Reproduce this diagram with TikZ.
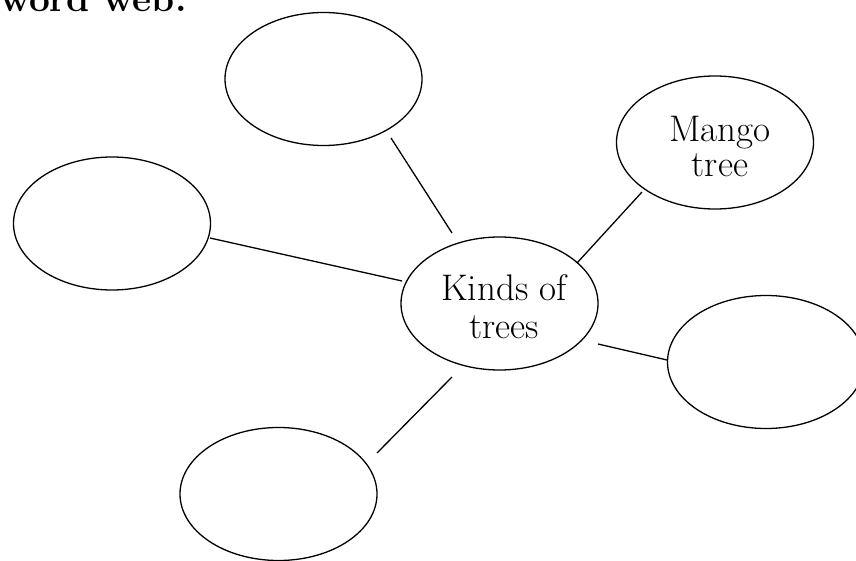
\documentclass[tikz,border=0pt]{standalone}
\usetikzlibrary{shapes.geometric}
\begin{document}
\begin{tikzpicture}[x=1pt,y=-1pt,
  bubble/.style={draw=black, line width=1.3pt, ellipse, minimum width=197pt, minimum height=133pt, inner sep=0pt},
  label/.style={inner sep=0pt, align=center, font=\fontsize{37}{38}\selectfont},
  link/.style={draw=black, line width=1.3pt}]
\useasboundingbox (0,0) rectangle (856,561);
\clip (0,0) rectangle (856,561);
\node[anchor=base west, inner sep=0pt, font=\fontsize{37}{38}\selectfont\bfseries] (title) at (0,12) {word web.};
\node[bubble] (mid) at (499.5,303.5) {};
\node[bubble] (top) at (323.5,79) {};
\node[bubble] (left) at (112,223.5) {};
\node[bubble] (mango) at (715,142.5) {};
\node[bubble] (right) at (766,362) {};
\node[bubble] (bottom) at (278.5,494) {};
\node[label, anchor=base] (midtext) at (504,338) {Kinds of\\trees};
\node[label, anchor=base, font=\fontsize{37}{35}\selectfont] (mangotext) at (720,177) {Mango\\tree};
\draw[link] ([shift={(67.5,59)}]top.center) -- ([shift={(-47.5,-70.5)}]mid.center);
\draw[link] ([shift={(98,14.5)}]left.center) -- ([shift={(-97.5,-22.5)}]mid.center);
\draw[link] ([shift={(-73,49.5)}]mango.center) -- ([shift={(77.5,-40.5)}]mid.center);
\draw[link] ([shift={(-99,-2)}]right.center) -- ([shift={(98.5,40.5)}]mid.center);
\draw[link] ([shift={(98.5,-41)}]bottom.center) -- ([shift={(-47.5,73.5)}]mid.center);
\end{tikzpicture}
\end{document}
